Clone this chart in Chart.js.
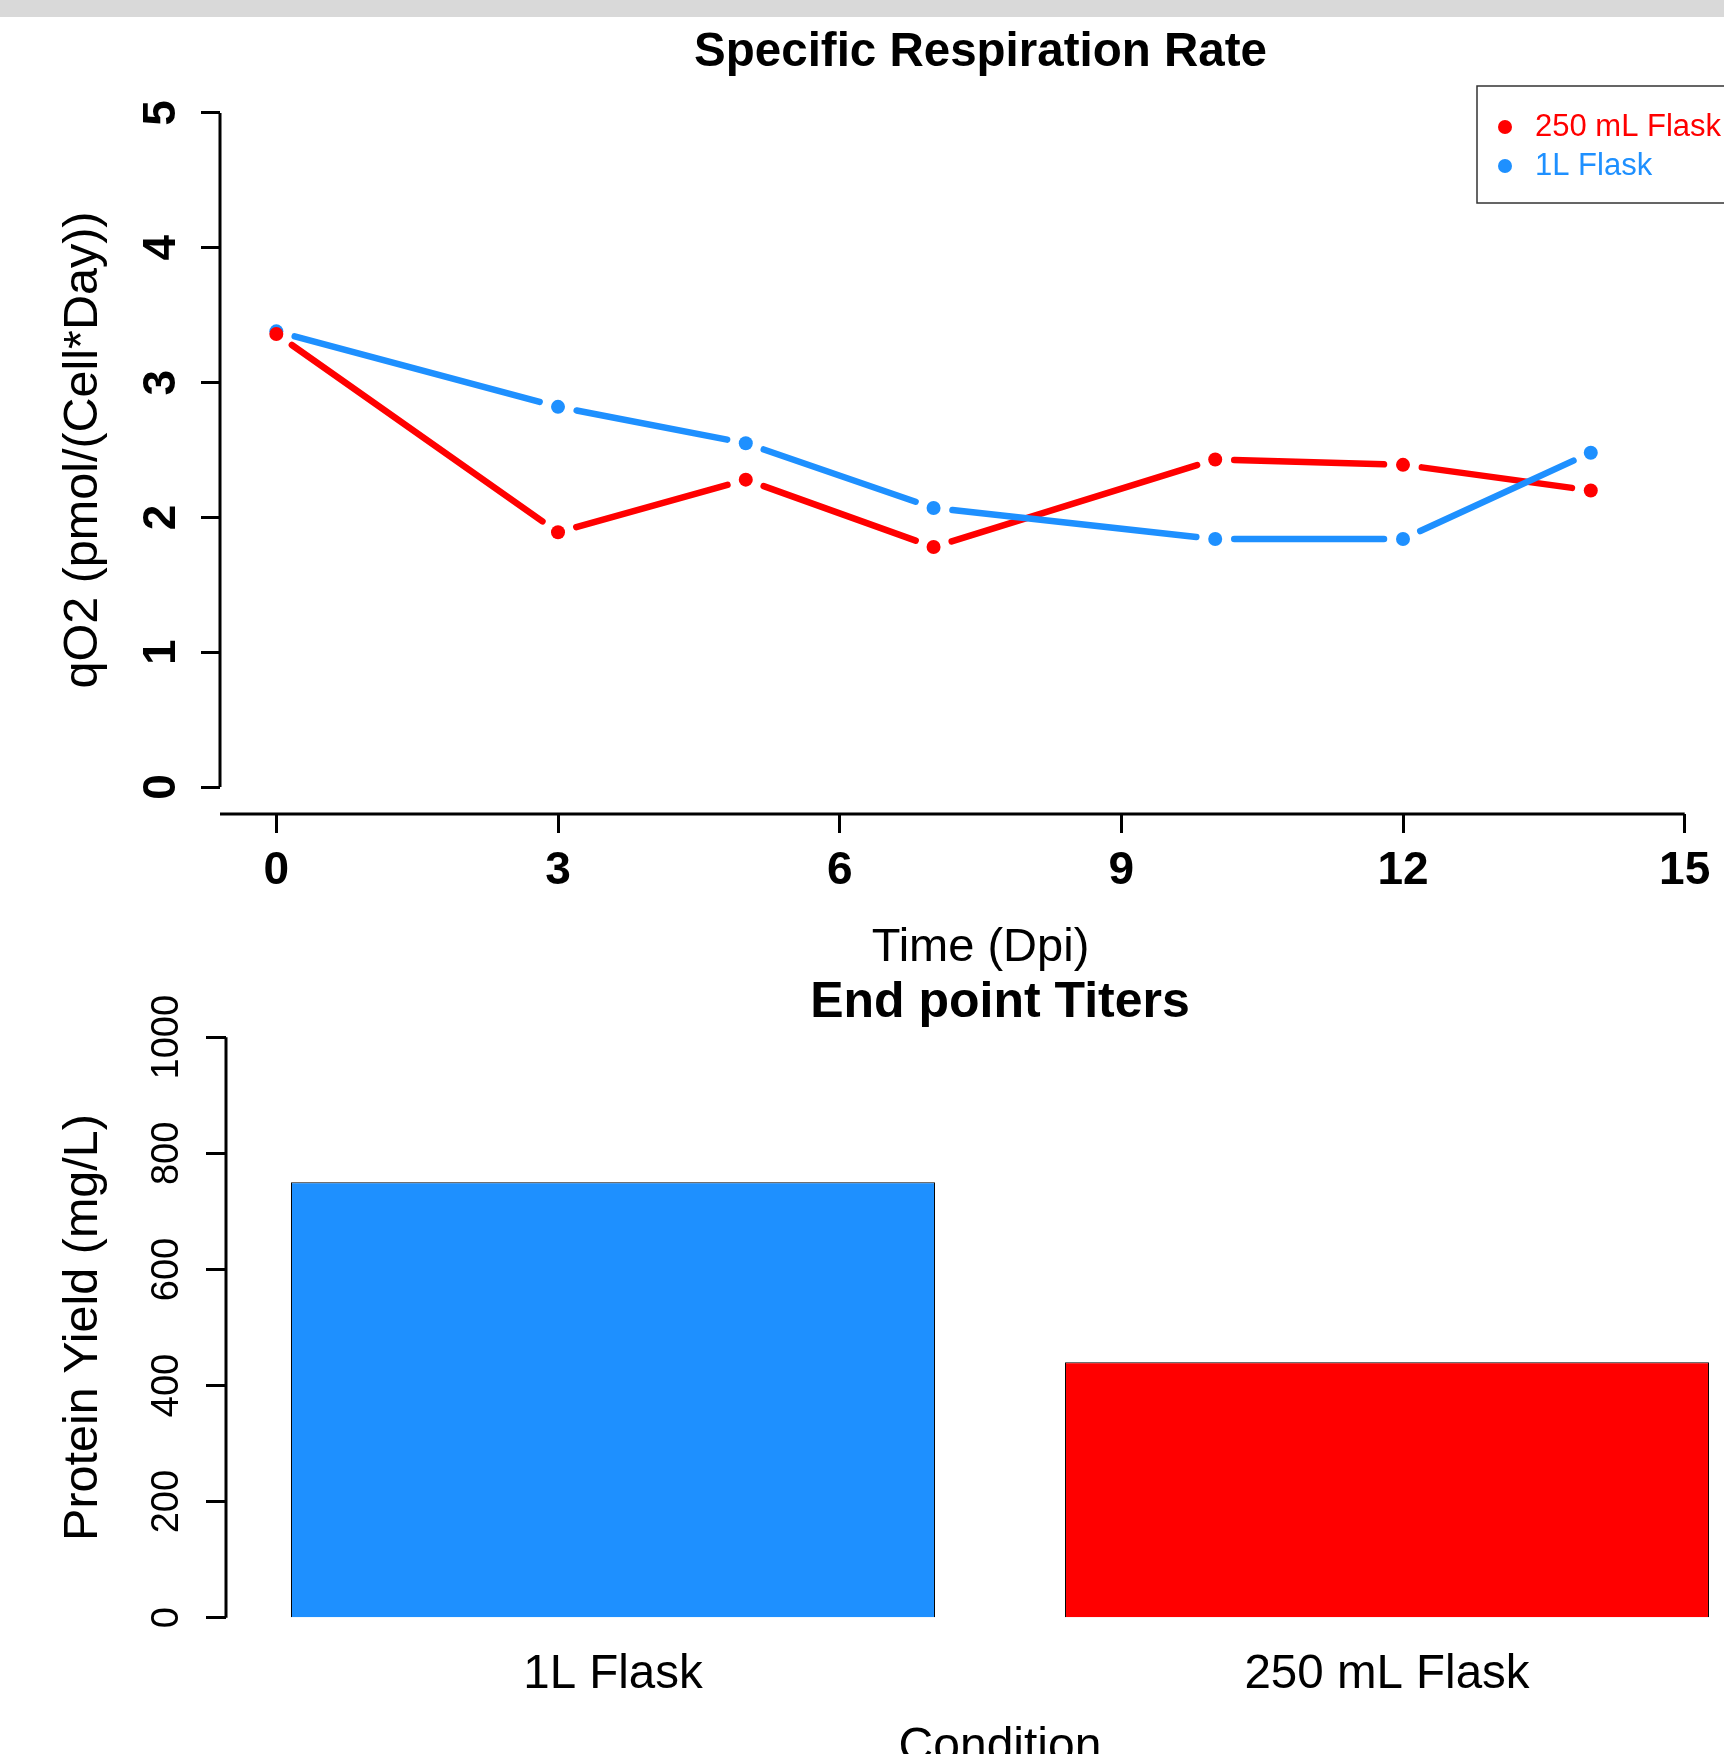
<!DOCTYPE html>
<html>
<head>
<meta charset="utf-8">
<title>Specific Respiration Rate</title>
<script src="https://cdn.jsdelivr.net/npm/chart.js@4.4.1/dist/chart.umd.min.js"></script>
<style>
    html, body { margin: 0; padding: 0; background: #fff; overflow: hidden; width: 1724px; height: 1754px; }
    #topbar { position: absolute; left: 0; top: 0; width: 1724px; height: 17px; background: #d9d9d9; }
    canvas { position: absolute; left: 0; }
    #rateChart { top: 17px; }
    #titerChart { top: 960px; }
</style>
</head>
<body>
<div id="topbar"></div>
<canvas id="rateChart" width="1741" height="961"></canvas>
<canvas id="titerChart" width="1774" height="830"></canvas>
<script>
// -------------------------------------------------------------------------- Data

const days = [0, 3, 5, 7, 10, 12, 14]
const flask250 = [3.36, 1.89, 2.28, 1.78, 2.43, 2.39, 2.20]
const flask1L = [3.38, 2.82, 2.55, 2.07, 1.84, 1.84, 2.48]
const dayTicks = [0, 3, 6, 9, 12, 15]
const qo2Ticks = [0, 1, 2, 3, 4, 5]

const conditions = ['1L Flask', '250 mL Flask']
const yields = [750, 440]
const yieldTicks = [0, 200, 400, 600, 800, 1000]

let red = '#ff0000'
let blue = '#1e90ff'

Chart.defaults.font.family = "'Liberation Sans', Arial, sans-serif"
Chart.defaults.color = '#000'
Chart.defaults.animation = false

const useTicks = values => scale => {
    scale.ticks = values.map(v => ({ value: v }))
}

// -------------------------------------------------------------------------- Plugins

// R style axis lines: only from first to last tick
const axisLines = {
    id: 'axisLines',
    afterDraw(chart, args, opts) {
        const ctx = chart.ctx
        const area = chart.chartArea
        const y = chart.scales.y
        ctx.save()
        ctx.strokeStyle = '#000'
        ctx.lineWidth = 3
        ctx.beginPath()
        ctx.moveTo(area.left, y.getPixelForValue(y.ticks[0].value))
        ctx.lineTo(area.left, y.getPixelForValue(y.ticks[y.ticks.length - 1].value))
        if (opts.xLine) {
            const x = chart.scales.x
            ctx.moveTo(area.left, area.bottom)
            ctx.lineTo(x.getPixelForValue(x.ticks[x.ticks.length - 1].value), area.bottom)
        }
        ctx.stroke()
        ctx.restore()
    }
}

// type = "b" lines: segments stop short of the points
const gapLines = {
    id: 'gapLines',
    beforeDatasetsDraw(chart) {
        const ctx = chart.ctx
        const gap = 19
        chart.data.datasets.forEach((ds, i) => {
            const pts = chart.getDatasetMeta(i).data
            ctx.save()
            ctx.strokeStyle = ds.pointBackgroundColor
            ctx.lineWidth = 6.5
            ctx.lineCap = 'round'
            for (let k = 1; k < pts.length; k++) {
                const a = pts[k - 1], b = pts[k]
                const dx = b.x - a.x, dy = b.y - a.y
                const len = Math.hypot(dx, dy)
                if (len <= gap * 2) continue
                const ux = dx / len, uy = dy / len
                ctx.beginPath()
                ctx.moveTo(a.x + ux * gap, a.y + uy * gap)
                ctx.lineTo(b.x - ux * gap, b.y - uy * gap)
                ctx.stroke()
            }
            ctx.restore()
        })
    }
}

// legend box in the top right corner of the plot region
const cornerLegend = {
    id: 'cornerLegend',
    afterDraw(chart) {
        const ctx = chart.ctx
        const area = chart.chartArea
        const left = area.right - 264
        const top = area.top
        ctx.save()
        ctx.strokeStyle = '#333'
        ctx.lineWidth = 1.5
        ctx.strokeRect(left, top, 264, 117)
        ctx.font = "31px 'Liberation Sans', Arial, sans-serif"
        ctx.textBaseline = 'middle'
        chart.data.datasets.forEach((ds, i) => {
            const y = top + 41 + i * 39
            ctx.fillStyle = ds.pointBackgroundColor
            ctx.beginPath()
            ctx.arc(left + 28, y, 7, 0, Math.PI * 2)
            ctx.fill()
            ctx.fillText(ds.label, left + 58, y)
        })
        ctx.restore()
    }
}

// -------------------------------------------------------------------------- Line Chart Config

const dataRateChart = {
    datasets: [{
        label: '250 mL Flask',
        data: days.map((d, i) => ({ x: d, y: flask250[i] })),
        pointBackgroundColor: red,
        borderColor: red
    }, {
        label: '1L Flask',
        data: days.map((d, i) => ({ x: d, y: flask1L[i] })),
        pointBackgroundColor: blue,
        borderColor: blue
    }]
}

const configRateChart = {
    type: 'line',
    data: dataRateChart,
    plugins: [gapLines, axisLines, cornerLegend],
    options: {
        responsive: false,
        events: [],
        showLine: false,
        layout: { autoPadding: false },
        elements: {
            point: { radius: 7, borderWidth: 0, hoverRadius: 7 }
        },
        plugins: {
            legend: { display: false },
            tooltip: { enabled: false },
            axisLines: { xLine: true },
            title: {
                display: true,
                text: 'Specific Respiration Rate',
                fullSize: false,
                font: { size: 47.5, weight: 'bold', lineHeight: 1 },
                padding: { top: 12.5, bottom: 9 }
            }
        },
        scales: {
            x: {
                type: 'linear',
                min: -0.6,
                max: 15.6,
                afterBuildTicks: useTicks(dayTicks),
                afterFit: scale => { scale.height = 164 },
                border: { display: false },
                grid: { drawOnChartArea: false, tickLength: 19, tickWidth: 3, tickColor: '#000' },
                ticks: { font: { size: 46, weight: 'bold' }, padding: 10.5, autoSkip: false, maxRotation: 0 },
                title: {
                    display: true,
                    text: 'Time (Dpi)',
                    font: { size: 47 },
                    padding: { top: 0, bottom: 2 }
                }
            },
            y: {
                min: -0.2,
                max: 5.2,
                afterBuildTicks: useTicks(qo2Ticks),
                afterFit: scale => { scale.width = 220 },
                border: { display: false },
                grid: { drawOnChartArea: false, tickLength: 19, tickWidth: 3, tickColor: '#000' },
                ticks: {
                    font: { size: 46, weight: 'bold' },
                    minRotation: 90,
                    maxRotation: 90,
                    crossAlign: 'center',
                    padding: 26,
                    autoSkip: false
                },
                title: {
                    display: true,
                    text: 'qO2 (pmol/(Cell*Day))',
                    font: { size: 48.5 },
                    padding: { top: 55, bottom: 0 }
                }
            }
        }
    }
}

// -------------------------------------------------------------------------- Bar Chart Config

const dataTiterChart = {
    labels: conditions,
    datasets: [{
        label: 'Protein Yield',
        data: yields,
        backgroundColor: [blue, red],
        borderColor: '#000',
        borderWidth: 1,
        categoryPercentage: 1,
        barPercentage: 0.832
    }]
}

const configTiterChart = {
    type: 'bar',
    data: dataTiterChart,
    plugins: [axisLines],
    options: {
        responsive: false,
        events: [],
        plugins: {
            legend: { display: false },
            tooltip: { enabled: false },
            axisLines: { xLine: false },
            title: {
                display: true,
                text: 'End point Titers',
                fullSize: false,
                font: { size: 50, weight: 'bold', lineHeight: 0.4 },
                padding: { top: 33.7, bottom: 0.3 }
            }
        },
        scales: {
            x: {
                afterFit: scale => { scale.height = 149 },
                border: { display: false },
                grid: { display: false, drawTicks: false },
                ticks: { font: { size: 47.5 }, padding: 5, maxRotation: 0 },
                title: {
                    display: true,
                    text: 'Condition',
                    font: { size: 48 },
                    padding: { top: 0, bottom: 13 }
                }
            },
            y: {
                min: -40,
                max: 1040,
                afterBuildTicks: useTicks(yieldTicks),
                afterFit: scale => { scale.width = 226 },
                border: { display: false },
                grid: { drawOnChartArea: false, tickLength: 20, tickWidth: 3, tickColor: '#000' },
                ticks: {
                    font: { size: 38 },
                    minRotation: 90,
                    maxRotation: 90,
                    crossAlign: 'center',
                    padding: -4,
                    autoSkip: false,
                    callback: value => String(value)
                },
                title: {
                    display: true,
                    text: 'Protein Yield (mg/L)',
                    font: { size: 48.5 },
                    padding: { top: 55, bottom: 0 }
                }
            }
        }
    }
}

// -------------------------------------------------------------------------- Render Charts
let rateChart = new Chart(
    document.getElementById('rateChart'),
    configRateChart
)

let titerChart = new Chart(
    document.getElementById('titerChart'),
    configTiterChart
)
</script>
</body>
</html>
